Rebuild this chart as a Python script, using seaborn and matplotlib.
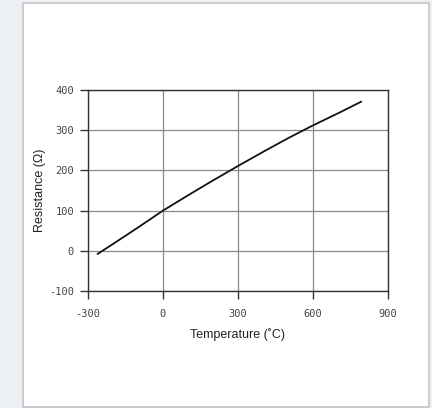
import matplotlib
matplotlib.use("Agg")
import matplotlib.pyplot as plt
import seaborn as sns
import pandas as pd
from matplotlib.patches import Rectangle

temperature = [-262, -200, -100, 0, 100, 200, 300, 400, 500, 600, 700, 793]
resistance = [-8, 17, 58, 100, 138, 175, 211, 246, 280, 312, 342, 371]
x_ticks = [-300, 0, 300, 600, 900]
y_ticks = [-100, 0, 100, 200, 300, 400]
x_label = "Temperature (˚C)"
y_label = "Resistance (Ω)"

df = pd.DataFrame({"Temperature": temperature, "Resistance": resistance})

sns.set_style("white")
fig = plt.figure(figsize=(4.32, 4.08), dpi=100, facecolor="#edf1f5")
# white panel
fig.patches.append(Rectangle((23 / 432, 1 - 407 / 408), 406 / 432, 404 / 408,
                             transform=fig.transFigure, facecolor="white",
                             edgecolor="#c4c4c4", linewidth=1.2, zorder=-10))

ax = fig.add_axes([88 / 432, 1 - 291 / 408, 300 / 432, 201 / 408])
ax.set_zorder(5)
ax.set_facecolor("white")
sns.lineplot(data=df, x="Temperature", y="Resistance", ax=ax, color="#111111",
             linewidth=1.3, zorder=3)

ax.set_xlim(-300, 900)
ax.set_ylim(-100, 400)
ax.set_xticks(x_ticks)
ax.set_yticks(y_ticks)
ax.set_xticklabels([str(v) for v in x_ticks], fontfamily="DejaVu Sans Mono",
                   fontsize=7.5, color="#444444")
ax.set_yticklabels([str(v) for v in y_ticks], fontfamily="DejaVu Sans Mono",
                   fontsize=7.5, color="#444444")
ax.grid(True, color="#8a8a8a", linewidth=0.9)
for s in ax.spines.values():
    s.set_color("#333333")
    s.set_linewidth(1.0)
    s.set_visible(True)
ax.tick_params(axis="both", direction="out", length=5.5, width=1.0,
               color="#333333", bottom=True, left=True)
ax.tick_params(axis="x", pad=7.5)
ax.tick_params(axis="y", pad=4.5)
ax.set_xlabel(x_label, fontfamily="Liberation Sans", fontsize=9,
              color="#222222", labelpad=6.5)
ax.set_ylabel(y_label, fontfamily="Liberation Sans", fontsize=9,
              color="#222222", labelpad=2.5)

fig.savefig("out.png", dpi=100, facecolor=fig.get_facecolor())
